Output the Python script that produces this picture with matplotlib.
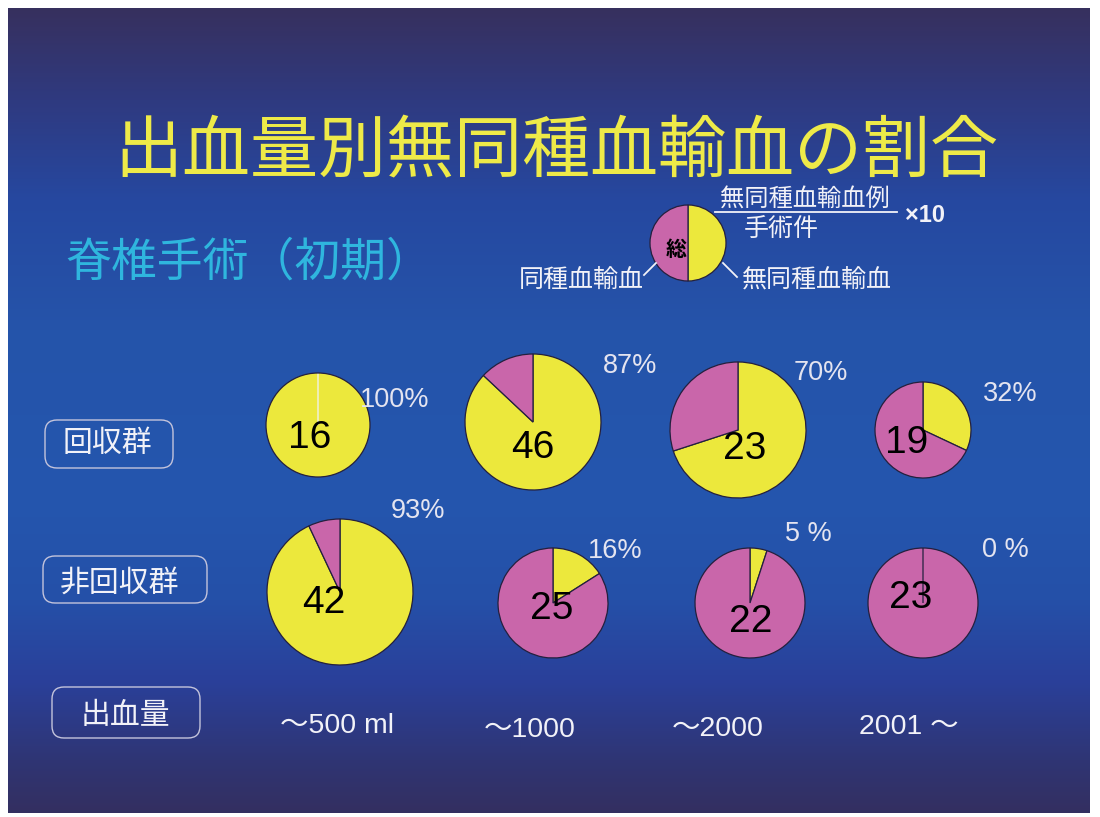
import numpy as np
import matplotlib
matplotlib.use("Agg")
import matplotlib.pyplot as plt
from matplotlib.patches import Circle, FancyBboxPatch

# --- data -----------------------------------------------------------------
groups = ["回収群", "非回収群"]
volume_labels = ["〜500 ml", "〜1000", "〜2000", "2001 〜"]
# cases per blood-loss bin (total operations)
cases_recovered = [16, 46, 23, 19]
cases_nonrecovered = [42, 25, 22, 23]
# share without allogeneic transfusion (%)
pct_recovered = [100, 87, 70, 32]
pct_nonrecovered = [93, 16, 5, 0]

title = "出血量別無同種血輸血の割合"
subtitle = "脊椎手術（初期）"
legend_top = "無同種血輸血例"
legend_bottom = "手術件"
legend_scale = "×10"
legend_left = "同種血輸血"
legend_right = "無同種血輸血"
legend_center = "総"
axis_name = "出血量"

# --- layout (pixel coords, y from top) ------------------------------------
W, H = 1100, 817
row_layout = [
    # (cx, cy, r, number xy, percent xy)
    [(318, 425, 52, (310, 438), (395, 400)),
     (533, 422, 68, (533, 448), (630, 366)),
     (738, 430, 68, (745, 449), (821, 373)),
     (923, 430, 48, (907, 443), (1010, 394))],
    [(340, 592, 73, (324, 603), (418, 511)),
     (553, 603, 55, (552, 609), (615, 551)),
     (750, 603, 55, (751, 622), (808, 534)),
     (923, 603, 55, (911, 598), (1005, 550))],
]
bottom_x = [337, 530, 718, 909]
bottom_y = [726, 730, 729, 727]

YELLOW = "#ECE83C"
PINK = "#C966AA"
EDGE = "#24203E"
WHITE = "#F2F2F8"
CJK = "Noto Sans CJK JP"
SANS = ["Liberation Sans", CJK]


def Y(y):
    return H - y


fig = plt.figure(figsize=(W / 100, H / 100), dpi=100, facecolor="white")
ax = fig.add_axes([0, 0, 1, 1])

# slide background gradient
stops_y = [8, 100, 200, 330, 500, 600, 680, 760, 813]
stops_c = ["#37305E", "#2F3A80", "#2648A0", "#2554AA", "#2456AE",
           "#2550A8", "#2A409A", "#2F3574", "#342F60"]
rgb = np.array([matplotlib.colors.to_rgb(c) for c in stops_c])
ys = np.arange(8, 813)
grad = np.stack([np.interp(ys, stops_y, rgb[:, k]) for k in range(3)], axis=-1)
ax.imshow(grad[:, None, :], extent=(8, 1090, Y(813), Y(8)), aspect="auto",
          interpolation="bilinear", zorder=0)


def draw_pie(cx, cy, r, pct, radial_color=EDGE):
    wedges, _ = ax.pie([pct, 100 - pct], colors=[YELLOW, PINK], startangle=90,
                       counterclock=False, center=(cx, Y(cy)), radius=r,
                       wedgeprops=dict(edgecolor=EDGE, linewidth=0.9))
    for w in wedges:
        w.set_zorder(2)
        if abs(w.theta2 - w.theta1) >= 359.999:
            w.set_linewidth(0)
            ax.add_patch(Circle((cx, Y(cy)), r, fill=False, edgecolor=EDGE,
                                linewidth=0.9, zorder=3))
        elif abs(w.theta2 - w.theta1) < 1e-9:
            w.set_edgecolor(radial_color)
            w.set_zorder(3)
    return wedges


# title block
ax.text(556, Y(153), title, fontsize=49, color="#EEEA48", family=CJK,
        ha="center", va="center")
ax.text(65, Y(262), subtitle, fontsize=33, color="#2FB6DE", family=CJK,
        ha="left", va="center")

# legend pie
draw_pie(688, 243, 38, 50)
ax.text(676, Y(249), legend_center, fontsize=15, color="black", family=CJK,
        weight="bold", ha="center", va="center", zorder=4)
ax.text(805, Y(199), legend_top, fontsize=17.5, color=WHITE, family=CJK,
        ha="center", va="center")
ax.plot([715, 897], [Y(212), Y(212)], color=WHITE, lw=1.3)
ax.text(781, Y(229), legend_bottom, fontsize=18, color=WHITE, family=CJK,
        ha="center", va="center")
ax.text(905, Y(215), legend_scale, fontsize=17, color=WHITE, family=SANS,
        weight="bold", ha="left", va="center")
ax.text(581, Y(281), legend_left, fontsize=18, color=WHITE, family=CJK,
        ha="center", va="center")
ax.text(817, Y(281), legend_right, fontsize=18, color=WHITE, family=CJK,
        ha="center", va="center")
ax.plot([644, 656], [Y(275), Y(263)], color=WHITE, lw=1.3)
ax.plot([723, 737], [Y(263), Y(277)], color=WHITE, lw=1.3)

# pies
for layout, cases, pcts in zip(row_layout,
                               [cases_recovered, cases_nonrecovered],
                               [pct_recovered, pct_nonrecovered]):
    for (cx, cy, r, nxy, pxy), n, p in zip(layout, cases, pcts):
        draw_pie(cx, cy, r, p, radial_color=WHITE if p == 100 else EDGE)
        ax.text(nxy[0], Y(nxy[1]), str(n), fontsize=28, color="black",
                family=SANS, ha="center", va="center", zorder=5)
        plabel = f"{p}%" if p >= 10 else f"{p} %"
        ax.text(pxy[0], Y(pxy[1]), plabel, fontsize=19.5, color="#E4E4F0",
                family=SANS, ha="center", va="center", zorder=5)

# left boxed labels
boxes = [(groups[0], 45, 420, 128, 48, 107, 443),
         (groups[1], 43, 556, 164, 47, 120, 583),
         (axis_name, 52, 687, 148, 51, 125, 715)]
for text, bx, by, bw, bh, tx, ty in boxes:
    ax.add_patch(FancyBboxPatch((bx, Y(by + bh)), bw, bh,
                                boxstyle="round,pad=0,rounding_size=12",
                                fill=False, edgecolor="#C4C4DC", lw=1.0,
                                zorder=2))
    ax.text(tx, Y(ty), text, fontsize=21.5, color=WHITE, family=CJK,
            ha="center", va="center")

# blood loss bins
for lab, x, y in zip(volume_labels, bottom_x, bottom_y):
    ax.text(x, Y(y), lab, fontsize=20.5, color=WHITE, family=SANS,
            ha="center", va="center")

ax.set_xlim(0, W)
ax.set_ylim(0, H)
ax.set_aspect("auto")
ax.axis("off")
fig.savefig("out.png", dpi=100, facecolor="white")
